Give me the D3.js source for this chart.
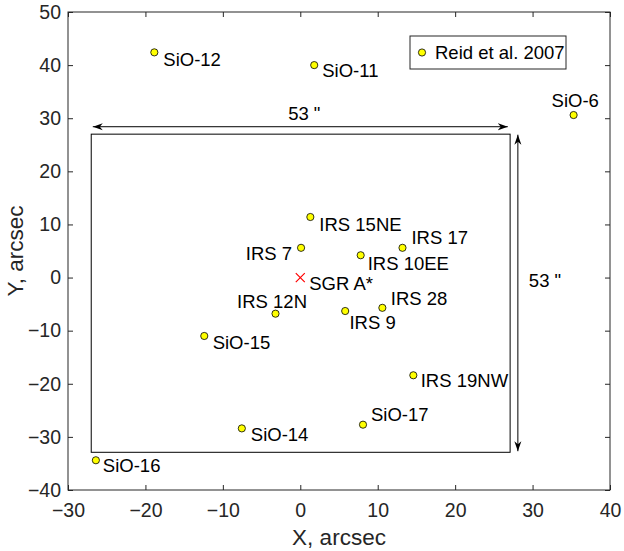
<!DOCTYPE html>
<html>
<head>
<meta charset="utf-8">
<script src="https://cdn.jsdelivr.net/npm/d3@7"></script>
<style>
  html, body { margin: 0; padding: 0; background: #fff; }
  svg { display: block; font-family: "Liberation Sans", Helvetica, Arial, sans-serif; }
</style>
</head>
<body>
<svg id="chart" width="624" height="551"></svg>
<script>
// ---- Data ----
const names = ["SiO-12","SiO-11","SiO-6","IRS 15NE","IRS 7","IRS 17","IRS 10EE",
               "IRS 28","IRS 9","IRS 12N","SiO-15","IRS 19NW","SiO-14","SiO-17","SiO-16"];
const xs = [-18.85, 1.8, 35.3, 1.3, 0.1, 13.2, 7.8, 10.6, 5.8, -3.2, -12.4, 14.6, -7.55, 8.1, -26.4];
const ys = [42.4, 40.0, 30.6, 11.4, 5.6, 5.6, 4.2, -5.7, -6.3, -6.8, -11.0, -18.4, -28.4, -27.7, -34.4];
const sgrName = "SGR A*";
const sgrX = [0];
const sgrY = [0];
const legendLabel = "Reid et al. 2007";
const xTicks = [-30, -20, -10, 0, 10, 20, 30, 40];
const yTicks = [-40, -30, -20, -10, 0, 10, 20, 30, 40, 50];
const boxX = [-27.0, 27.1];
const boxY = [-32.9, 27.0];
const hArrowX = [-26.8, 26.8], hArrowY = 28.4;
const vArrowX = 28.1, vArrowY = [-32.7, 26.9];
const sizeLabel = "53 \"";

// ---- Label layout (pixel offsets: dx, dy baseline, anchor) ----
const labelOffsets = {
  "SiO-12": [9, 14, "start"], "SiO-11": [8, 12, "start"], "SiO-6": [-22, -8, "start"],
  "IRS 15NE": [9, 13.5, "start"], "IRS 7": [-9, 12.5, "end"], "IRS 17": [9, -4, "start"],
  "IRS 10EE": [7, 14.3, "start"], "IRS 28": [8.4, -3.3, "start"], "IRS 9": [4.3, 17.6, "start"],
  "IRS 12N": [-38.4, -6, "start"], "SiO-15": [8.4, 12.6, "start"], "IRS 19NW": [7.4, 11.3, "start"],
  "SiO-14": [9, 13, "start"], "SiO-17": [8, -4, "start"], "SiO-16": [7, 12, "start"]
};

const svg = d3.select("#chart");
const mLeft = 68, mRight = 610, mTop = 12, mBottom = 490;
const x = d3.scaleLinear().domain([-30, 40]).range([mLeft, mRight]);
const y = d3.scaleLinear().domain([-40, 50]).range([mBottom, mTop]);
const axisColor = "#262626";
const labelSize = "18.5px", tickSize = "19.5px", titleSize = "22.5px";

// Axes box
svg.append("rect").attr("x", mLeft).attr("y", mTop).attr("width", mRight - mLeft).attr("height", mBottom - mTop)
  .attr("fill", "none").attr("stroke", axisColor).attr("stroke-width", 1);

// Axes with inward ticks
const xAxis = svg.append("g").attr("transform", `translate(0,${mBottom})`)
  .call(d3.axisBottom(x).tickValues(xTicks).tickSizeInner(-5).tickSizeOuter(0));
const xAxisTop = svg.append("g").attr("transform", `translate(0,${mTop})`)
  .call(d3.axisTop(x).tickValues(xTicks).tickSizeInner(-5).tickSizeOuter(0).tickFormat(""));
const yAxis = svg.append("g").attr("transform", `translate(${mLeft},0)`)
  .call(d3.axisLeft(y).tickValues(yTicks).tickSizeInner(-5).tickSizeOuter(0).tickPadding(7));
const yAxisR = svg.append("g").attr("transform", `translate(${mRight},0)`)
  .call(d3.axisRight(y).tickValues(yTicks).tickSizeInner(-5).tickSizeOuter(0).tickFormat(""));
[xAxis, xAxisTop, yAxis, yAxisR].forEach(g => {
  g.select(".domain").remove();
  g.selectAll(".tick line").attr("stroke", axisColor);
  g.selectAll("text").attr("fill", axisColor).style("font-size", tickSize)
    .style("font-family", "'Liberation Sans', Helvetica, Arial, sans-serif");
});
xAxis.selectAll("text").attr("dy", null).attr("y", 27);

// Axis labels
svg.append("text").attr("x", (mLeft + mRight) / 2).attr("y", 545).attr("text-anchor", "middle")
  .attr("fill", axisColor).style("font-size", titleSize).text("X, arcsec");
svg.append("text").attr("transform", `translate(23,${(mTop + mBottom) / 2}) rotate(-90)`)
  .attr("text-anchor", "middle").attr("fill", axisColor).style("font-size", titleSize).text("Y, arcsec");

// Field box
svg.append("rect").attr("x", x(boxX[0])).attr("y", y(boxY[1]))
  .attr("width", x(boxX[1]) - x(boxX[0])).attr("height", y(boxY[0]) - y(boxY[1]))
  .attr("fill", "none").attr("stroke", "#000").attr("stroke-width", 1);

// Arrowheads
const defs = svg.append("defs");
defs.append("marker").attr("id", "ah").attr("viewBox", "0 0 10 10").attr("refX", 10).attr("refY", 5)
  .attr("markerWidth", 10).attr("markerHeight", 10).attr("markerUnits", "userSpaceOnUse")
  .attr("orient", "auto-start-reverse")
  .append("path").attr("d", "M0,1.5 L10,5 L0,8.5 L3,5 Z").attr("fill", "#000");

svg.append("line").attr("x1", x(hArrowX[0])).attr("x2", x(hArrowX[1]))
  .attr("y1", y(hArrowY)).attr("y2", y(hArrowY)).attr("stroke", "#000").attr("stroke-width", 1)
  .attr("marker-start", "url(#ah)").attr("marker-end", "url(#ah)");
svg.append("line").attr("x1", x(vArrowX)).attr("x2", x(vArrowX))
  .attr("y1", y(vArrowY[1])).attr("y2", y(vArrowY[0])).attr("stroke", "#000").attr("stroke-width", 1)
  .attr("marker-start", "url(#ah)").attr("marker-end", "url(#ah)");

svg.append("text").attr("x", (x(hArrowX[0]) + x(hArrowX[1])) / 2 + 4).attr("y", y(hArrowY) - 7)
  .attr("text-anchor", "middle").attr("fill", "#000").style("font-size", labelSize).text(sizeLabel);
svg.append("text").attr("x", x(vArrowX) + 11).attr("y", (y(vArrowY[0]) + y(vArrowY[1])) / 2 - 6)
  .attr("text-anchor", "start").attr("fill", "#000").style("font-size", labelSize).text(sizeLabel);

// Points
const pts = names.map((n, i) => ({ name: n, x: xs[i], y: ys[i] }));
svg.append("g").selectAll("circle").data(pts).join("circle")
  .attr("cx", d => x(d.x)).attr("cy", d => y(d.y)).attr("r", 3.6)
  .attr("fill", "#ffff00").attr("stroke", "#000").attr("stroke-width", 0.8);
svg.append("g").selectAll("text").data(pts).join("text")
  .attr("x", d => x(d.x) + labelOffsets[d.name][0])
  .attr("y", d => y(d.y) + labelOffsets[d.name][1])
  .attr("text-anchor", d => labelOffsets[d.name][2])
  .attr("fill", "#000").style("font-size", labelSize).text(d => d.name);

// SGR A* cross
const sgr = sgrX.map((v, i) => ({ x: v, y: sgrY[i] }));
svg.append("g").selectAll("path").data(sgr).join("path")
  .attr("d", d => { const cx = x(d.x), cy = y(d.y), s = 4.5;
    return `M${cx - s},${cy - s}L${cx + s},${cy + s}M${cx - s},${cy + s}L${cx + s},${cy - s}`; })
  .attr("stroke", "#ff0000").attr("stroke-width", 1.2).attr("fill", "none");
svg.append("text").attr("x", x(sgrX[0]) + 9).attr("y", y(sgrY[0]) + 12.7)
  .attr("fill", "#000").style("font-size", labelSize).text(sgrName);

// Legend
const lg = svg.append("g");
lg.append("rect").attr("x", 410).attr("y", 36).attr("width", 156).attr("height", 33)
  .attr("fill", "#fff").attr("stroke", axisColor).attr("stroke-width", 1);
lg.append("circle").attr("cx", 422).attr("cy", 52.5).attr("r", 3.6)
  .attr("fill", "#ffff00").attr("stroke", "#000").attr("stroke-width", 0.8);
lg.append("text").attr("x", 435).attr("y", 58.5).attr("fill", "#000").style("font-size", labelSize).text(legendLabel);
</script>
</body>
</html>
